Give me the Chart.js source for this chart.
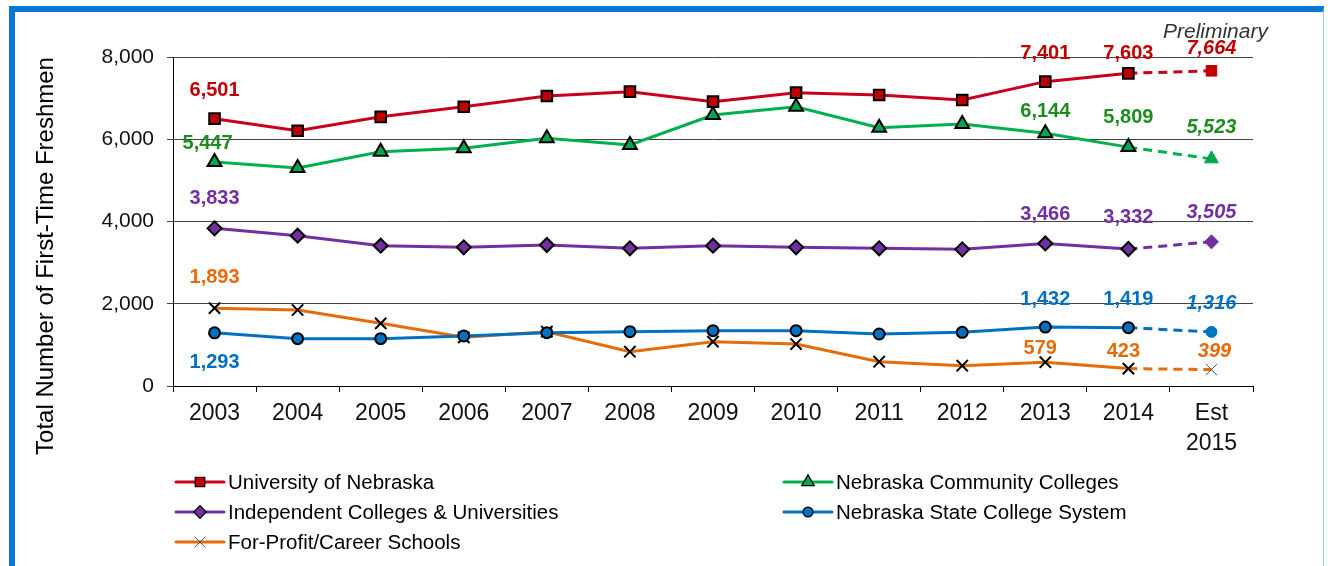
<!DOCTYPE html>
<html lang="en">
<head>
<meta charset="utf-8">
<title>First-Time Freshmen</title>
<script src="https://cdn.jsdelivr.net/npm/chart.js"></script>
<style>
    body { margin: 0; background: #fff; }
    #frame {
        position: absolute; left: 9px; top: 6px; width: 1308px; height: 560px;
        border-left: 6px solid #0A77D3; border-top: 6px solid #0A77D3; border-right: 1px solid #A8CBEB;
    }
    #chartWrap { position: relative; width: 1308px; height: 554px; }
</style>
</head>
<body>
<div id="frame">
    <div id="chartWrap"><canvas id="freshmenChart"></canvas></div>
</div>
<script>
    // 데이터
    const years = ['2003', '2004', '2005', '2006', '2007', '2008', '2009', '2010', '2011', '2012', '2013', '2014', ['Est', '2015']];
    const univNebraska = [6501, 6205, 6545, 6792, 7052, 7157, 6914, 7133, 7076, 6954, 7401, 7603, 7664];
    const communityColleges = [5447, 5301, 5695, 5780, 6023, 5860, 6590, 6792, 6281, 6371, 6144, 5809, 5523];
    const independentColleges = [3833, 3655, 3412, 3372, 3429, 3348, 3412, 3372, 3348, 3323, 3466, 3332, 3505];
    const stateColleges = [1293, 1151, 1151, 1216, 1297, 1321, 1345, 1345, 1264, 1305, 1432, 1419, 1316];
    const forProfitSchools = [1893, 1848, 1524, 1184, 1321, 834, 1077, 1021, 591, 494, 579, 423, 399];
    const yTicks = [0, 2000, 4000, 6000, 8000];
    const labeledPoints = [0, 10, 11, 12];
    const lastIdx = years.length - 1;

    const FONT = "'Liberation Sans', Arial, sans-serif";
    Chart.defaults.font.family = FONT;
    Chart.defaults.color = '#111';

    // 라벨 위치 (점 기준 px)
    const labelOffsets = [
        [[0, -28], [0, -28], [0, -20], [0, -22]],
        [[-7, -19], [0, -22], [0, -30], [0, -31]],
        [[0, -30], [0, -29], [0, -31], [0, -29]],
        [[0, 30], [0, -28], [0, -28], [0, -28]],
        [[0, -31], [-5, -14], [-5, -17], [3, -18]]
    ];

    function makeSeries(label, data, line, fill, labelColor, style, radius) {
        const isCross = style === 'crossRot';
        return {
            label, data,
            borderColor: line,
            borderWidth: 3,
            tension: 0,
            pointStyle: style,
            pointRadius: radius,
            pointBackgroundColor: fill,
            pointBorderColor: c => c.dataIndex === lastIdx ? (isCross ? '#555' : fill) : '#000',
            pointBorderWidth: c => c.dataIndex === lastIdx ? 1 : 2,
            segment: { borderDash: c => c.p1DataIndex === lastIdx ? [9, 6] : undefined },
            labelColor
        };
    }

    const datasets = [
        makeSeries('University of Nebraska', univNebraska, '#C8001E', '#C00000', '#C00000', 'rect', 7.5),
        makeSeries('Nebraska Community Colleges', communityColleges, '#00B050', '#00A651', '#1E8C1E', 'triangle', 8),
        makeSeries('Independent Colleges & Universities', independentColleges, '#7030A0', '#7030A0', '#7030A0', 'rectRot', 7),
        makeSeries('Nebraska State College System', stateColleges, '#0070C0', '#0070C0', '#0070C0', 'circle', 5.5),
        makeSeries('For-Profit/Career Schools', forProfitSchools, '#E46C0A', '#E46C0A', '#E46C0A', 'crossRot', 8)
    ];

    const extrasPlugin = {
        id: 'extras',
        afterDatasetsDraw(chart) {
            const ctx = chart.ctx;
            ctx.save();
            ctx.textAlign = 'center';
            ctx.textBaseline = 'middle';
            chart.data.datasets.forEach((ds, di) => {
                const meta = chart.getDatasetMeta(di);
                labeledPoints.forEach((idx, k) => {
                    const pt = meta.data[idx];
                    const [dx, dy] = labelOffsets[di][k];
                    ctx.font = (idx === lastIdx ? 'italic bold 20px ' : 'bold 20px ') + FONT;
                    ctx.fillStyle = ds.labelColor;
                    ctx.fillText(ds.data[idx].toLocaleString('en-US'), pt.x + dx, pt.y + dy);
                });
            });
            ctx.restore();
        },
        afterDraw(chart) {
            const ctx = chart.ctx;
            const area = chart.chartArea;
            ctx.save();

            // Preliminary
            ctx.font = 'italic 21px ' + FONT;
            ctx.fillStyle = '#333';
            ctx.textAlign = 'center';
            ctx.textBaseline = 'middle';
            ctx.fillText('Preliminary', chart.scales.x.getPixelForValue(lastIdx) + 4, area.top - 25);

            // y축 제목
            ctx.save();
            ctx.translate(31, area.top + 199);
            ctx.rotate(-Math.PI / 2);
            ctx.font = '24px ' + FONT;
            ctx.fillStyle = '#000';
            ctx.fillText('Total Number of First-Time Freshmen', 0, 0);
            ctx.restore();

            // 범례 (2열)
            ctx.textAlign = 'left';
            ctx.font = '20.5px ' + FONT;
            chart.data.datasets.forEach((ds, i) => {
                const col = i % 2, row = Math.floor(i / 2);
                const x0 = area.left + (col === 0 ? 3 : 611);
                const y = area.bottom + 96 + row * 30;
                ctx.strokeStyle = ds.borderColor;
                ctx.lineWidth = 3;
                ctx.lineCap = 'round';
                ctx.beginPath();
                ctx.moveTo(x0, y);
                ctx.lineTo(x0 + 48, y);
                ctx.stroke();
                const cross = ds.pointStyle === 'crossRot';
                ctx.fillStyle = ds.pointBackgroundColor;
                ctx.strokeStyle = cross ? '#555' : '#000';
                ctx.lineWidth = cross ? 1 : 1.2;
                Chart.helpers.drawPoint(ctx, {
                    pointStyle: ds.pointStyle,
                    radius: ds.pointRadius * 0.9,
                    rotation: 0,
                    borderWidth: ctx.lineWidth
                }, x0 + 24, y);
                ctx.fillStyle = '#000';
                ctx.fillText(ds.label, x0 + 52, y + 1);
            });
            ctx.restore();
        }
    };

    new Chart(document.getElementById('freshmenChart'), {
        type: 'line',
        data: { labels: years, datasets },
        plugins: [extrasPlugin],
        options: {
            responsive: true,
            maintainAspectRatio: false,
            animation: false,
            layout: { padding: { top: 45, right: 70, bottom: 100, left: 0 } },
            plugins: { legend: { display: false }, tooltip: { enabled: false } },
            scales: {
                x: {
                    offset: true,
                    grid: { offset: true, drawOnChartArea: false, drawTicks: true, tickLength: 6, color: '#000' },
                    border: { color: '#000', width: 1 },
                    ticks: { font: { size: 23, lineHeight: 1.3 }, color: '#111', padding: 7, maxRotation: 0, autoSkip: false },
                    afterFit: s => { s.height = 80; }
                },
                y: {
                    min: 0, max: 8000,
                    afterBuildTicks: s => { s.ticks = yTicks.map(v => ({ value: v })); },
                    grid: { color: '#444', lineWidth: 1, tickLength: 6 },
                    border: { color: '#000', width: 1 },
                    ticks: { font: { size: 21 }, color: '#111', padding: 13, callback: v => v.toLocaleString('en-US') },
                    afterFit: s => { s.width = 158; }
                }
            }
        }
    });
</script>
</body>
</html>
